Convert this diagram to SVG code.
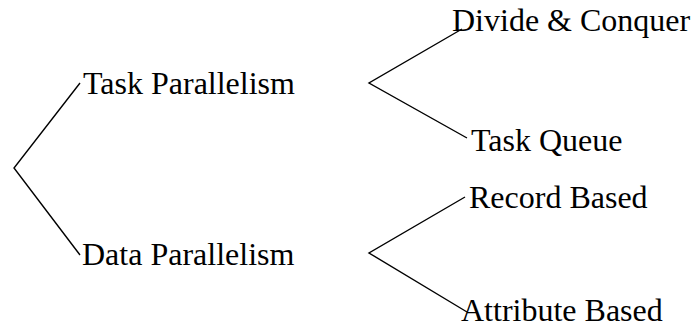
<svg xmlns="http://www.w3.org/2000/svg" width="691" height="327" viewBox="0 0 691 327">
<style>
.t{font-family:"Liberation Serif","Times New Roman",serif;font-size:32px;fill:#000}
.c{fill:none;stroke:#000;stroke-width:1.4;stroke-linejoin:miter}
</style>
<rect width="691" height="327" fill="#fff"/>
<g id="connectors">
<polyline class="c" points="80,83 14,168 80,255"/>
<polyline class="c" points="462,29 369,83 467,138"/>
<polyline class="c" points="465,197 369,253 467,312"/>
</g>
<g id="task-parallelism"><text class="t" x="83" y="94">Task Parallelism</text></g>
<g id="data-parallelism"><text class="t" x="82" y="265">Data Parallelism</text></g>
<g id="divide-conquer"><text class="t" x="452" y="31">Divide &amp; Conquer</text></g>
<g id="task-queue"><text class="t" x="471" y="151">Task Queue</text></g>
<g id="record-based"><text class="t" x="469" y="208">Record Based</text></g>
<g id="attribute-based"><text class="t" x="461" y="321">Attribute Based</text></g>
</svg>
